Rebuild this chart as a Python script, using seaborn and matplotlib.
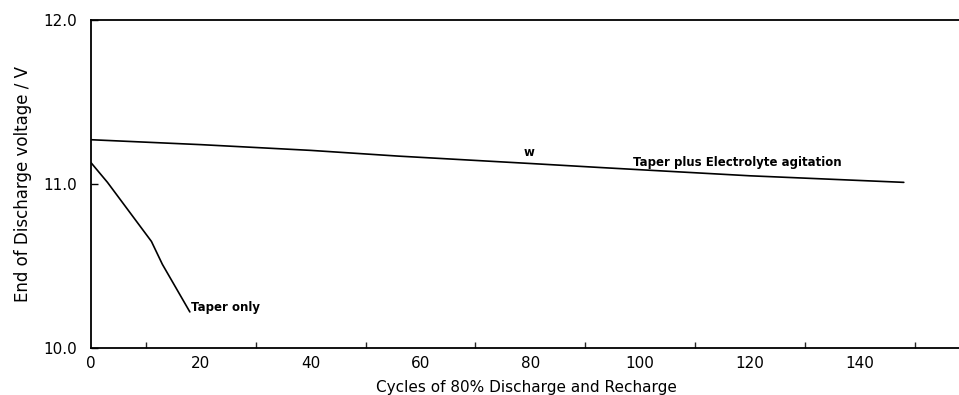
import matplotlib
matplotlib.use("Agg")
import matplotlib.pyplot as plt
import seaborn as sns
import pandas as pd
from matplotlib.ticker import MultipleLocator

# Data
agit_cycles = [0, 20, 40, 56, 80, 93, 120, 148]
agit_voltage = [11.27, 11.24, 11.205, 11.17, 11.125, 11.10, 11.05, 11.01]
taper_cycles = [0, 3, 11, 13, 18]
taper_voltage = [11.13, 11.01, 10.65, 10.51, 10.22]

x_ticks = [0, 20, 40, 60, 80, 100, 120, 140]
y_ticks = [10.0, 11.0, 12.0]
y_tick_labels = ["10.0", "11.0", "12.0"]

df = pd.concat([
    pd.DataFrame({"cycles": agit_cycles, "voltage": agit_voltage,
                  "series": "Taper plus Electrolyte agitation"}),
    pd.DataFrame({"cycles": taper_cycles, "voltage": taper_voltage,
                  "series": "Taper only"}),
])

sns.set_style("white")
plt.rcParams["font.family"] = ["DejaVu Sans"]
plt.rcParams["text.color"] = "black"
plt.rcParams["axes.labelcolor"] = "black"

fig = plt.figure(figsize=(9.59, 3.95), dpi=100)
ax = fig.add_axes([91 / 959, 1 - 348 / 395, 1 - 91 / 959 + 0.002, (348 - 20) / 395])

sns.lineplot(data=df, x="cycles", y="voltage", units="series", estimator=None,
             color="black", linewidth=1.2, sort=False, legend=False, ax=ax)

ax.set_xlim(0, 158.4)
ax.set_ylim(10.0, 12.0)
ax.set_xticks(x_ticks)
ax.set_xticklabels([str(v) for v in x_ticks])
ax.xaxis.set_minor_locator(MultipleLocator(10))
ax.set_yticks(y_ticks)
ax.set_yticklabels(y_tick_labels)

ax.tick_params(axis="x", which="major", direction="in", length=7, width=1,
               labelsize=11, pad=6, colors="black")
ax.tick_params(axis="x", which="minor", direction="in", length=4, width=1,
               bottom=True)
ax.tick_params(axis="y", which="major", direction="in", length=5, width=1,
               labelsize=11, pad=10, colors="black", left=True)

for side in ["left", "top", "bottom"]:
    ax.spines[side].set_visible(True)
    ax.spines[side].set_color("black")
    ax.spines[side].set_linewidth(1.3)
ax.spines["right"].set_visible(False)

ax.set_xlabel("Cycles of 80% Discharge and Recharge", fontsize=11, labelpad=6)
ax.set_ylabel("End of Discharge voltage / V", fontsize=12,
              family=["Liberation Sans Narrow", "DejaVu Sans"], labelpad=8)

ax.text(98.6, 11.13, "Taper plus Electrolyte agitation", fontsize=8.5,
        fontweight="bold", ha="left", va="center", color="black")
ax.text(79.8, 11.19, "w", fontsize=8.5, fontweight="bold", ha="center",
        va="center", color="black")
ax.text(18.2, 10.25, "Taper only", fontsize=8.5, fontweight="bold",
        ha="left", va="center", color="black")

fig.savefig("out.png", dpi=100)
